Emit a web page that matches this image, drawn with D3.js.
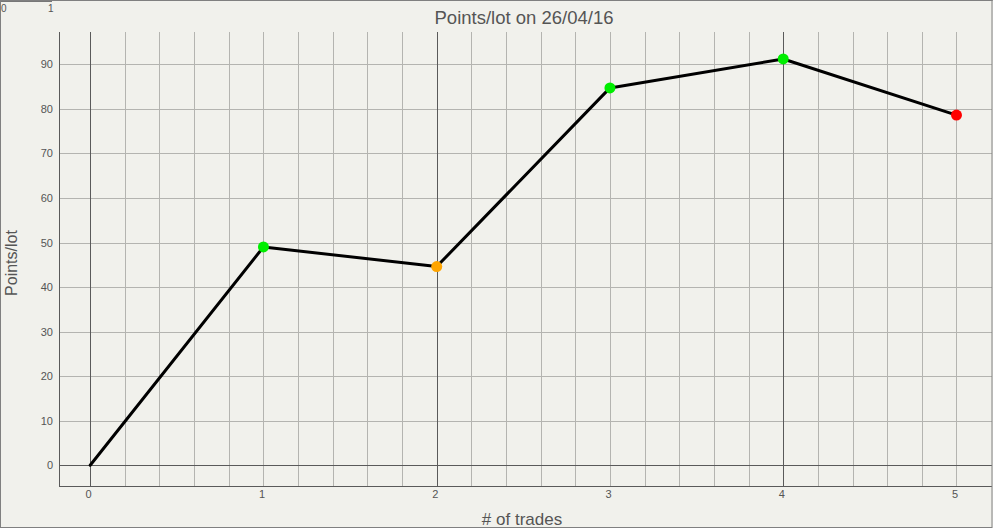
<!DOCTYPE html>
<html>
<head>
<meta charset="utf-8">
<script src="https://cdn.jsdelivr.net/npm/d3@7/dist/d3.min.js"></script>
<style>
  html, body { margin: 0; padding: 0; background: #f1f1ec; }
  svg { display: block; }
  text { font-family: "Liberation Sans", Arial, sans-serif; fill: #555; }
</style>
</head>
<body>
<svg id="chart" width="993" height="528"></svg>
<script>
// ---- data ----
const trades = [0, 1, 2, 3, 4, 5];
const pointsPerLot = [0, 49.0, 44.6, 84.7, 91.2, 78.6];
const markerColors = [null, "#00ee00", "#ffa500", "#00ee00", "#00ee00", "#ff0000"];
const xTickLabels = ["0", "1", "2", "3", "4", "5"];
const yTickValues = [0, 10, 20, 30, 40, 50, 60, 70, 80, 90];
const titleText = "Points/lot on 26/04/16";
const xLabelText = "# of trades";
const yLabelText = "Points/lot";

const W = 993, H = 528;
const plot = { left: 59, right: 992, top: 32, bottom: 486 };

const svg = d3.select("#chart");
svg.append("rect").attr("x", 0).attr("y", 0).attr("width", W).attr("height", H).attr("fill", "#f1f1ec");

const x = d3.scaleLinear().domain([-0.18, 5.205]).range([plot.left, plot.right]);
const y = d3.scaleLinear().domain([-4.65, 97.25]).range([plot.bottom, plot.top]);

// minor vertical grid (every 0.2)
const minorX = d3.range(0, 5.2001, 0.2).map(v => Math.round(v * 10) / 10);
const grid = svg.append("g");
grid.selectAll("line.vminor").data(minorX.filter(v => Math.abs(v % 2) > 1e-6 && x(v) < plot.right - 1))
  .join("line")
  .attr("x1", d => Math.round(x(d)) + 0.5).attr("x2", d => Math.round(x(d)) + 0.5)
  .attr("y1", plot.top).attr("y2", plot.bottom)
  .attr("stroke", "#b4b4b0").attr("stroke-width", 1);
// horizontal grid
grid.selectAll("line.h").data(yTickValues)
  .join("line")
  .attr("x1", plot.left).attr("x2", plot.right)
  .attr("y1", d => Math.round(y(d)) + 0.5).attr("y2", d => Math.round(y(d)) + 0.5)
  .attr("stroke", d => d === 0 ? "#5a5a5a" : "#b4b4b0").attr("stroke-width", 1);
// major vertical grid (every 2)
grid.selectAll("line.vmajor").data(minorX.filter(v => Math.abs(v % 2) < 1e-6))
  .join("line")
  .attr("x1", d => Math.round(x(d)) + 0.5).attr("x2", d => Math.round(x(d)) + 0.5)
  .attr("y1", plot.top).attr("y2", plot.bottom)
  .attr("stroke", "#5a5a5a").attr("stroke-width", 1);

// axes lines
svg.append("line").attr("x1", plot.left + 0.5).attr("x2", plot.left + 0.5)
  .attr("y1", plot.top).attr("y2", plot.bottom + 0.5).attr("stroke", "#5a5a5a");
svg.append("line").attr("x1", plot.left).attr("x2", plot.right)
  .attr("y1", plot.bottom + 0.5).attr("y2", plot.bottom + 0.5).attr("stroke", "#5a5a5a");

// y tick labels
svg.append("g").selectAll("text").data(yTickValues).join("text")
  .attr("x", 53).attr("y", d => y(d) + 4)
  .attr("text-anchor", "end").attr("font-size", 11)
  .text(d => d);

// x tick labels
svg.append("g").selectAll("text").data(trades).join("text")
  .attr("x", d => x(d) - 1.5).attr("y", 498)
  .attr("text-anchor", "middle").attr("font-size", 11)
  .text((d, i) => xTickLabels[i]);

// line
const pts = trades.map((t, i) => ({ t, v: pointsPerLot[i], c: markerColors[i] }));
svg.append("path").datum(pts)
  .attr("d", d3.line().x(d => x(d.t)).y(d => y(d.v)))
  .attr("fill", "none").attr("stroke", "#000").attr("stroke-width", 3)
  .attr("stroke-linejoin", "round").attr("stroke-linecap", "round");

// markers
svg.append("g").selectAll("circle").data(pts.filter(d => d.c)).join("circle")
  .attr("cx", d => x(d.t)).attr("cy", d => y(d.v)).attr("r", 5.5)
  .attr("fill", d => d.c);

// title & labels
svg.append("text").attr("x", 524).attr("y", 24).attr("text-anchor", "middle")
  .attr("font-size", 18.5).text(titleText);
svg.append("text").attr("x", 522).attr("y", 525).attr("text-anchor", "middle")
  .attr("font-size", 17).text(xLabelText);
svg.append("text").attr("transform", "translate(17,263) rotate(-90)").attr("text-anchor", "middle")
  .attr("font-size", 16).text(yLabelText);

// top-left little scale indicator
svg.append("rect").attr("x", 0).attr("y", 0).attr("width", W).attr("height", 1).attr("fill", "#a0a0a0");
svg.append("rect").attr("x", 0).attr("y", 0).attr("width", 52).attr("height", 2).attr("fill", "#777");
svg.append("text").attr("x", 1).attr("y", 12).attr("font-size", 10).attr("fill", "#888").text("0");
svg.append("text").attr("x", 48).attr("y", 12).attr("font-size", 10).attr("fill", "#888").text("1");

// outer border
svg.append("rect").attr("x", 0.5).attr("y", 0.5).attr("width", W - 1.5).attr("height", H - 1)
  .attr("fill", "none").attr("stroke", "#808080").attr("stroke-width", 1);
</script>
</body>
</html>
